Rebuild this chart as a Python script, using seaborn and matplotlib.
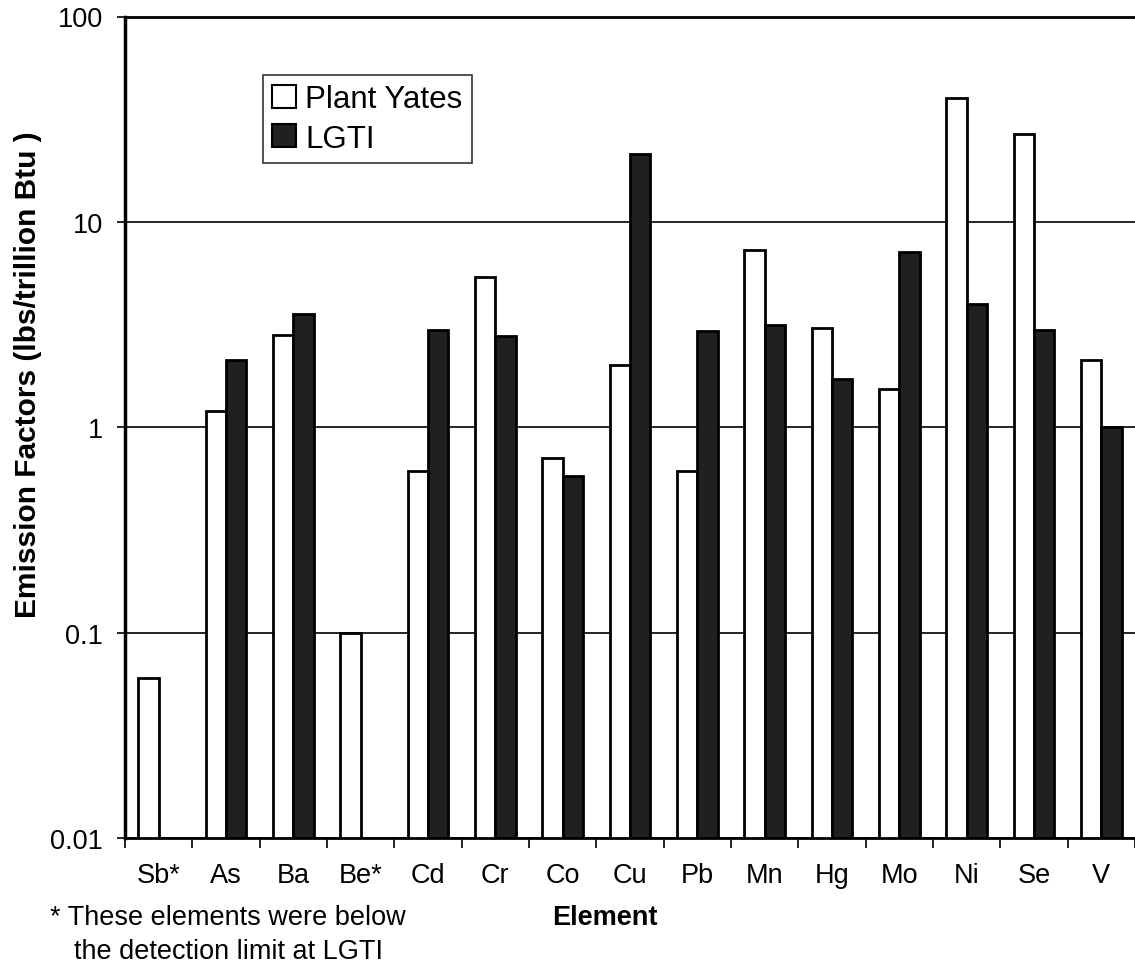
import numpy as np
import pandas as pd
import matplotlib
matplotlib.use("Agg")
import matplotlib.pyplot as plt
import seaborn as sns
from matplotlib.ticker import FixedLocator, NullFormatter

# ---- data ----
elements = ["Sb*", "As", "Ba", "Be*", "Cd", "Cr", "Co", "Cu",
            "Pb", "Mn", "Hg", "Mo", "Ni", "Se", "V"]
plant_yates = [0.06, 1.2, 2.82, 0.1, 0.61, 5.4, 0.71, 2.02,
               0.61, 7.3, 3.04, 1.53, 40.3, 26.7, 2.13]
lgti = [np.nan, 2.13, 3.57, np.nan, 2.96, 2.77, 0.58, 21.3,
        2.95, 3.16, 1.72, 7.1, 3.99, 2.96, 1.0]
series = ["Plant Yates", "LGTI"]
yticks = [0.01, 0.1, 1, 10, 100]
ytick_labels = ["0.01", "0.1", "1", "10", "100"]

df = pd.DataFrame({
    "Element": elements * 2,
    "Value": plant_yates + lgti,
    "Source": [series[0]] * len(elements) + [series[1]] * len(elements),
})

sns.set_style("white")
plt.rcParams["font.family"] = ["Liberation Sans", "DejaVu Sans"]
plt.rcParams["text.color"] = "black"
plt.rcParams["xtick.color"] = "black"
plt.rcParams["ytick.color"] = "black"
plt.rcParams["axes.labelcolor"] = "black"

fs = 19.5

fig = plt.figure(figsize=(11.35, 9.7), dpi=100)
ax = fig.add_axes([125 / 1135, 1 - 839 / 970, 1 - 125 / 1135, (839 - 17.5) / 970])
ax.set_yscale("log")

sns.barplot(
    data=df, x="Element", y="Value", hue="Source",
    order=elements, hue_order=series,
    palette={"Plant Yates": "white", "LGTI": "#202020"},
    edgecolor="black", linewidth=2, width=0.6,
    errorbar=None, ax=ax,
)

ax.set_ylim(0.01, 100)
ax.set_xlim(-0.5, len(elements) - 0.5)

# y axis
ax.yaxis.set_major_locator(FixedLocator(yticks))
ax.set_yticklabels(ytick_labels)
ax.yaxis.set_minor_formatter(NullFormatter())
ax.yaxis.set_minor_locator(FixedLocator([]))
ax.tick_params(axis="y", which="major", direction="out", length=6,
               width=1.2, color="black", labelcolor="black",
               labelsize=fs, pad=10, left=True)
ax.yaxis.grid(True, which="major", color="black", linewidth=1.2)
ax.set_axisbelow(True)

# x axis: labels centred, tick marks between categories
ax.set_xticks(range(len(elements)))
ax.set_xticklabels(elements)
ax.set_xticks(np.arange(-0.5, len(elements), 1.0), minor=True)
ax.tick_params(axis="x", which="major", length=0, labelsize=fs,
               labelcolor="black", pad=17)
ax.tick_params(axis="x", which="minor", direction="out", length=7,
               width=1.2, color="black", bottom=True)

ax.set_xlabel("")
ax.set_ylabel("")

for side in ["left", "bottom", "top"]:
    ax.spines[side].set_visible(True)
    ax.spines[side].set_color("black")
ax.spines["left"].set_linewidth(2.5)
ax.spines["bottom"].set_linewidth(2.0)
ax.spines["top"].set_linewidth(2.0)
ax.spines["right"].set_visible(False)

# legend
handles, labels = ax.get_legend_handles_labels()
leg = ax.legend(handles, labels, loc="upper left",
                bbox_to_anchor=((263 - 125) / 1010, (839 - 76) / 821.5),
                fontsize=22.5, frameon=True, fancybox=False, edgecolor="black",
                handlelength=0.75, handleheight=0.75, handletextpad=0.3,
                borderpad=0.3, labelspacing=0.3, borderaxespad=0)
leg.get_frame().set_linewidth(1.2)
for h in leg.legend_handles:
    h.set_edgecolor("black")
    h.set_linewidth(1.5)

# labels and footnote
fig.text(28 / 1135, 1 - 375 / 970, "Emission Factors (lbs/trillion Btu )",
         rotation=90, ha="center", va="center", fontsize=21.5, fontweight="bold")
fig.text(605 / 1135, 1 - 918 / 970, "Element", ha="center", va="center",
         fontsize=fs, fontweight="bold")
fig.text(50 / 1135, 1 - 918 / 970, "* These elements were below",
         ha="left", va="center", fontsize=fs)
fig.text(74 / 1135, 1 - 952 / 970, "the detection limit at LGTI",
         ha="left", va="center", fontsize=fs)

plt.savefig("out.png", dpi=100)
plt.close()
